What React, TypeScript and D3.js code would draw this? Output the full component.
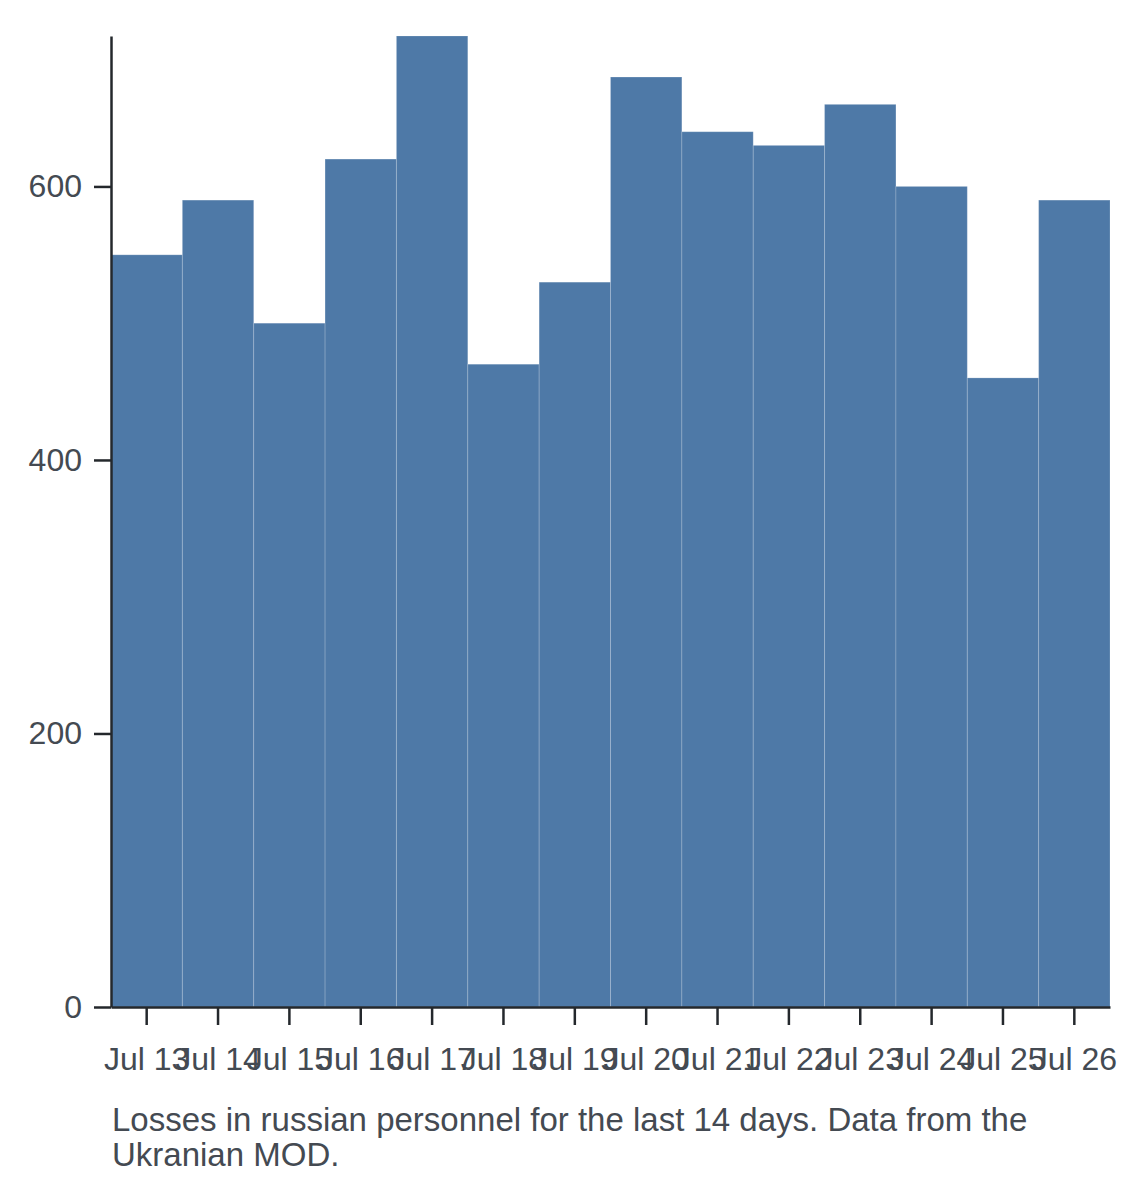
import * as d3 from "d3";
import { useEffect, useRef } from "react";

// Daily losses
const days = [
  "Jul 13", "Jul 14", "Jul 15", "Jul 16", "Jul 17", "Jul 18", "Jul 19",
  "Jul 20", "Jul 21", "Jul 22", "Jul 23", "Jul 24", "Jul 25", "Jul 26",
];
const losses = [550, 590, 500, 620, 710, 470, 530, 680, 640, 630, 660, 600, 460, 590];
const yTicks = [0, 200, 400, 600];
const captionLines = [
  "Losses in russian personnel for the last 14 days. Data from the",
  "Ukranian MOD.",
];

export default function App() {
  const ref = useRef(null);

  useEffect(() => {
    const svg = d3.select(ref.current);
    svg.selectAll("*").remove();

    const width = 1140;
    const height = 1182;
    const margin = { top: 36, right: 30, bottom: 175, left: 111 };
    const fontFamily = "Arial, 'Liberation Sans', sans-serif";
    const textColor = "#444a52";
    const axisColor = "#24282c";

    const x = d3
      .scaleBand()
      .domain(days)
      .range([margin.left, width - margin.right])
      .padding(0);

    const y = d3
      .scaleLinear()
      .domain([0, d3.max(losses)])
      .range([height - margin.bottom, margin.top]);

    // Bars
    svg
      .append("g")
      .selectAll("rect")
      .data(losses)
      .enter()
      .append("rect")
      .attr("x", (d, i) => x(days[i]))
      .attr("y", (d) => y(d))
      .attr("width", x.bandwidth())
      .attr("height", (d) => y(0) - y(d))
      .attr("fill", "#4e79a7")
      .attr("stroke", "rgba(255,255,255,0.18)")
      .attr("stroke-width", 1);

    // Axes
    const xAxis = svg
      .append("g")
      .attr("transform", `translate(0,${y(0)})`)
      .call(d3.axisBottom(x).tickSize(18).tickPadding(22).tickSizeOuter(0));

    const yAxis = svg
      .append("g")
      .attr("transform", `translate(${margin.left},0)`)
      .call(d3.axisLeft(y).tickValues(yTicks).tickSize(17).tickPadding(12).tickSizeOuter(0));

    [xAxis, yAxis].forEach((g) => {
      g.select(".domain").attr("stroke", axisColor).attr("stroke-width", 2.5);
      g.selectAll(".tick line").attr("stroke", axisColor).attr("stroke-width", 2.5);
      g.selectAll("text")
        .attr("font-size", "32px")
        .attr("font-family", fontFamily)
        .attr("fill", textColor);
    });

    // Caption
    svg
      .append("text")
      .attr("x", 112)
      .attr("y", 1131)
      .attr("font-size", "33px")
      .attr("font-family", fontFamily)
      .attr("fill", textColor)
      .selectAll("tspan")
      .data(captionLines)
      .enter()
      .append("tspan")
      .attr("x", 112)
      .attr("dy", (d, i) => (i === 0 ? 0 : 35))
      .text((d) => d);
  }, []);

  return (
    <div style={{ position: "absolute", left: 0, top: 0 }}>
      <svg ref={ref} width={1140} height={1182} style={{ display: "block" }} />
    </div>
  );
}
